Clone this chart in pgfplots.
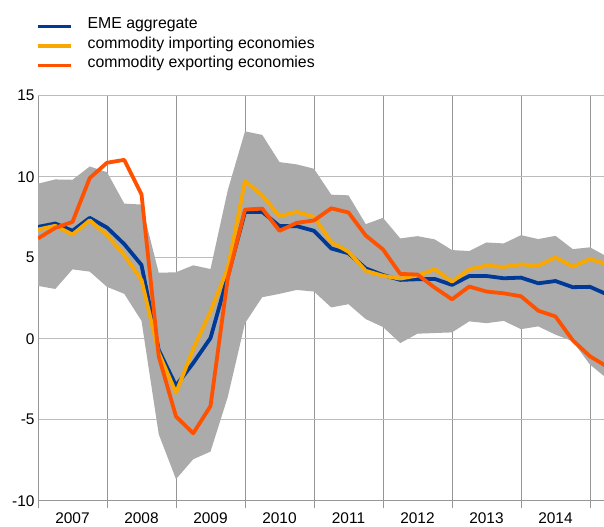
\documentclass[border=0pt]{standalone}
\usepackage{fontspec}
\setmainfont{Liberation Sans}
\usepackage{pgfplots}
\usepackage{pgfplotstable}
\pgfplotsset{compat=1.18}
\usepgfplotslibrary{fillbetween}

\definecolor{emeblue}{RGB}{0,58,150}
\definecolor{impyellow}{RGB}{248,168,0}
\definecolor{exporange}{RGB}{255,82,0}
\definecolor{bandgray}{RGB}{171,171,171}
\definecolor{gridh}{RGB}{188,188,188}
\definecolor{gridv}{RGB}{150,150,150}

\pgfplotstableread{
x       lo     hi     eme    imp    exp
2007.00  3.26   9.57   6.90   6.74   6.19
2007.25  3.07   9.83   7.11   6.97   6.84
2007.50  4.28   9.81   6.66   6.43   7.21
2007.75  4.14  10.63   7.46   7.31   9.92
2008.00  3.20  10.28   6.86   6.39  10.86
2008.25  2.77   8.34   5.84   5.16  11.04
2008.50  1.10   8.28   4.55   3.63   8.91
2008.75 -5.90   4.07  -0.70  -0.88  -1.10
2009.00 -8.67   4.10  -2.90  -3.34  -4.80
2009.25 -7.44   4.53  -1.50  -0.62  -5.84
2009.50 -6.97   4.30   0.04   1.68  -4.16
2009.75 -3.60   9.16   3.83   4.34   3.73
2010.00  0.96  12.80   7.83   9.73   7.97
2010.25  2.56  12.58   7.83   8.85   8.03
2010.50  2.77  10.90   6.95   7.56   6.66
2010.75  3.01  10.76   6.95   7.83   7.15
2011.00  2.91  10.49   6.66   7.52   7.30
2011.25  1.93   8.89   5.57   5.96   8.05
2011.50  2.13   8.85   5.27   5.37   7.79
2011.75  1.21   7.07   4.34   4.19   6.37
2012.00  0.72   7.46   3.93   3.88   5.51
2012.25 -0.27   6.19   3.63   3.71   4.00
2012.50  0.31   6.33   3.67   3.90   3.96
2012.75  0.35   6.13   3.69   4.29   3.15
2013.00  0.39   5.47   3.32   3.52   2.43
2013.25  1.07   5.41   3.87   4.28   3.22
2013.50  0.96   5.94   3.87   4.51   2.91
2013.75  1.10   5.88   3.73   4.43   2.80
2014.00  0.59   6.39   3.77   4.59   2.62
2014.25  0.76   6.15   3.42   4.51   1.73
2014.50  0.25   6.35   3.56   5.02   1.37
2014.75 -0.16   5.53   3.18   4.45  -0.10
2015.00 -1.60   5.64   3.20   4.92  -1.09
2015.25 -2.47   5.06   2.73   4.59  -1.73
}\data

\begin{document}
\begin{tikzpicture}
\begin{axis}[
  scale only axis, width=566bp, height=405bp,
  xmin=2007, xmax=2015.203, ymin=-10, ymax=15,
  ytick={-10,-5,0,5,10,15},
  xtick={2007.5,2008.5,2009.5,2010.5,2011.5,2012.5,2013.5,2014.5},
  xticklabels={2007,2008,2009,2010,2011,2012,2013,2014},
  minor xtick={2007,2008,2009,2010,2011,2012,2013,2014,2015},
  major tick length=0pt, minor tick length=7.6bp, tick align=outside,
  xminorgrids=true, ymajorgrids=true, xmajorgrids=false,
  major grid style={gridh, line width=1bp},
  minor grid style={gridv, line width=0.8bp},
  every minor tick/.append style={gridv, line width=0.8bp},
  axis lines*=left,
  axis line style={gridv, line width=0.8bp, -},
  /pgf/number format/assume math mode=true,
  tick label style={font=\fontsize{15.5}{18}\selectfont, black},
  xticklabel style={yshift=-8bp},
  legend style={draw=none, fill=none, at={(rel axis cs:0,1)}, anchor=south west,
    yshift=20.5bp, xshift=-2bp, inner sep=0pt, column sep=15bp, row sep=0pt,
    font=\fontsize{15.9}{18}\selectfont,
    nodes={inner sep=0pt, text height=12bp, text depth=7.4bp}},
  legend cell align=left,
  legend image code/.code={\draw[#1, line width=3.4bp] (0bp,0bp) -- (33bp,0bp);},
  line join=round,
]
\coordinate (SW) at (rel axis cs:0,0);
\coordinate (NE) at (rel axis cs:1,1);
\addplot[draw=none, name path=lo, forget plot] table[x=x, y=lo] {\data};
\addplot[draw=none, name path=hi, forget plot] table[x=x, y=hi] {\data};
\addplot[fill=bandgray, draw=none, forget plot] fill between[of=hi and lo];
\addplot[emeblue, line width=3.8bp] table[x=x, y=eme] {\data};
\addlegendentry{EME aggregate}
\addplot[impyellow, line width=3.8bp] table[x=x, y=imp] {\data};
\addlegendentry{commodity importing economies}
\addplot[exporange, line width=3.8bp] table[x=x, y=exp] {\data};
\addlegendentry{commodity exporting economies}
\end{axis}
\pgfresetboundingbox
\path[use as bounding box] ([shift={(-38bp,-26.3bp)}]SW) rectangle ([shift={(0bp,95.7bp)}]NE);
\end{tikzpicture}
\end{document}
